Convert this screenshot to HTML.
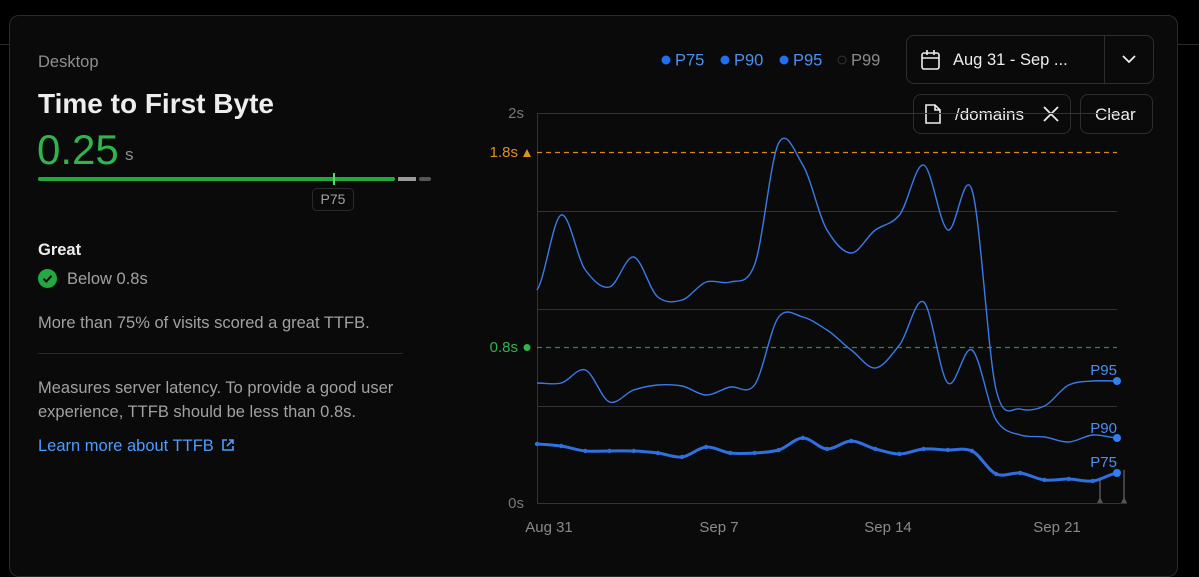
<!DOCTYPE html>
<html><head><meta charset="utf-8"><style>
html,body{margin:0;padding:0;background:#000;width:1199px;height:554px;overflow:hidden;font-family:"Liberation Sans",sans-serif;}
.card{position:absolute;left:9px;top:15px;width:1167px;height:560px;background:#0a0a0a;border:1px solid #2a2a2a;border-radius:10px;}
.t{position:absolute;white-space:nowrap;}
.btn{position:absolute;border:1px solid #2e2e2e;border-radius:8px;background:#0a0a0a;box-sizing:border-box;}
</style></head><body>
<div style="position:absolute;left:0;top:44px;width:9px;height:1px;background:#2a2a2a"></div>
<div style="position:absolute;left:1177px;top:44px;width:22px;height:1px;background:#2a2a2a"></div>
<div class="card"></div>
<div class="t" style="left:38px;top:53px;font-size:16.5px;color:#8f8f8f">Desktop</div>
<div class="t" style="left:38px;top:88px;font-size:28px;font-weight:bold;color:#ededed">Time to First Byte</div>
<div class="t" style="left:37px;top:126px;font-size:42px;color:#2fb44e">0.25</div>
<div class="t" style="left:125px;top:145px;font-size:17px;color:#8f8f8f">s</div>
<div style="position:absolute;left:38px;top:177px;width:357px;height:4px;border-radius:2px;background:#22a93f"></div>
<div style="position:absolute;left:398px;top:177px;width:18px;height:4px;background:#9a9a9a"></div>
<div style="position:absolute;left:419px;top:177px;width:12px;height:4px;border-radius:2px;background:#555"></div>
<div style="position:absolute;left:333px;top:173px;width:2px;height:12px;background:#4ce06a"></div>
<div style="position:absolute;left:312px;top:188px;width:42px;height:23px;border:1px solid #2a2a2a;border-radius:5px;box-sizing:border-box;color:#a1a1a1;font-size:14px;text-align:center;line-height:21px">P75</div>
<div class="t" style="left:38px;top:241px;font-size:16.5px;font-weight:bold;color:#ededed">Great</div>
<div style="position:absolute;left:38px;top:269px;width:19px;height:19px;border-radius:50%;background:#22a93f"></div>
<svg style="position:absolute;left:38px;top:269px" width="19" height="19"><path d="M5.5 9.8 L8.3 12.5 L13.5 6.8" stroke="#000" stroke-width="2" fill="none"/></svg>
<div class="t" style="left:67px;top:270px;font-size:16.5px;color:#a1a1a1">Below 0.8s</div>
<div class="t" style="left:38px;top:314px;font-size:16.5px;color:#a1a1a1">More than 75% of visits scored a great TTFB.</div>
<div style="position:absolute;left:38px;top:353px;width:365px;height:1px;background:#2a2a2a"></div>
<div class="t" style="left:38px;top:376px;font-size:16.5px;line-height:24px;color:#a1a1a1">Measures server latency. To provide a good user<br>experience, TTFB should be less than 0.8s.</div>
<div class="t" style="left:38px;top:437px;font-size:16.5px;color:#4d9cff">Learn more about TTFB</div>
<svg style="position:absolute;left:221px;top:438px" width="14" height="14"><path d="M6 2H2V12H12V8M8 2H12V6M12 2L6 8" stroke="#4d9cff" stroke-width="1.6" fill="none"/></svg>

<svg style="position:absolute;left:655px;top:50px" width="240" height="20">
<circle cx="11" cy="10" r="4.5" fill="#1f6fee"/><text x="20" y="15.5" font-size="16.5" fill="#4d8fef" font-family="Liberation Sans">P75</text>
<circle cx="70" cy="10" r="4.5" fill="#1f6fee"/><text x="79" y="15.5" font-size="16.5" fill="#4d8fef" font-family="Liberation Sans">P90</text>
<circle cx="129" cy="10" r="4.5" fill="#1f6fee"/><text x="138" y="15.5" font-size="16.5" fill="#4d8fef" font-family="Liberation Sans">P95</text>
<circle cx="187" cy="10" r="4" fill="none" stroke="#333"/><text x="196" y="15.5" font-size="16.5" fill="#8a8a8a" font-family="Liberation Sans">P99</text>
</svg>
<div class="btn" style="left:906px;top:35px;width:248px;height:49px"></div>
<div style="position:absolute;left:1104px;top:36px;width:1px;height:47px;background:#2e2e2e"></div>
<svg style="position:absolute;left:920px;top:49px" width="22" height="22"><rect x="2" y="4" width="17" height="16" rx="2" stroke="#ededed" stroke-width="1.6" fill="none"/><path d="M2 9H19M7 1V6M14 1V6" stroke="#ededed" stroke-width="1.6"/></svg>
<div class="t" style="left:953px;top:51px;font-size:16.5px;color:#ededed">Aug 31 - Sep ...</div>
<svg style="position:absolute;left:1120px;top:52px" width="18" height="14"><path d="M3 4L9 10L15 4" stroke="#ededed" stroke-width="1.8" fill="none"/></svg>
<div style="position:absolute;left:1070px;top:113px;width:10px;height:1px;background:#2e2e2e"></div>
<div class="btn" style="left:913px;top:94px;width:158px;height:40px"></div>
<svg style="position:absolute;left:924px;top:103px" width="18" height="22"><path d="M2 2H11L16 7V20H2Z M11 2V7H16" stroke="#ededed" stroke-width="1.6" fill="none"/></svg>
<div class="t" style="left:955px;top:105px;font-size:17px;color:#ededed">/domains</div>
<svg style="position:absolute;left:1042px;top:105px" width="18" height="18"><path d="M2 2L16 16M16 2L2 16" stroke="#ededed" stroke-width="1.8"/></svg>
<div class="btn" style="left:1080px;top:94px;width:73px;height:40px"></div>
<div class="t" style="left:1095px;top:105px;font-size:17px;color:#ededed">Clear</div>

<svg id="ch" style="position:absolute;left:0;top:0" width="1199" height="554" font-family="Liberation Sans">
<g stroke="#333" stroke-width="1">
<line x1="537" y1="113.5" x2="1117" y2="113.5"/><line x1="537" y1="211.5" x2="1117" y2="211.5"/>
<line x1="537" y1="309.5" x2="1117" y2="309.5"/><line x1="537" y1="406.5" x2="1117" y2="406.5"/>
<line x1="537" y1="503.5" x2="1127" y2="503.5"/><line x1="537.5" y1="113" x2="537.5" y2="504"/>
</g>
<line x1="537" y1="152.5" x2="1117" y2="152.5" stroke="#d68a1f" stroke-dasharray="5,4" stroke-width="1.2"/>
<line x1="537" y1="347.5" x2="1117" y2="347.5" stroke="#2f8a3f" stroke-dasharray="5,4" stroke-width="1.2"/>
<g font-size="15" text-anchor="end">
<text x="524" y="118" fill="#777">2s</text>
<text x="518" y="157" fill="#e0901f">1.8s</text><path d="M523 157L527 149L531 157Z" fill="#e0901f"/>
<text x="518" y="352" fill="#2fb44e">0.8s</text><circle cx="527" cy="347.5" r="3.5" fill="#2fb44e"/>
<text x="524" y="508" fill="#777">0s</text>
</g>
<g font-size="15" fill="#8a8a8a" text-anchor="middle">
<text x="549" y="532">Aug 31</text><text x="719" y="532">Sep 7</text><text x="888" y="532">Sep 14</text><text x="1057" y="532">Sep 21</text>
</g>
<g stroke="#555" stroke-width="1.5"><line x1="1100" y1="480" x2="1100" y2="503"/><line x1="1124" y1="470" x2="1124" y2="503"/></g>
<path d="M1097 503L1100 497L1103 503ZM1121 503L1124 497L1127 503Z" fill="#555"/>
<path id="p95" fill="none" stroke="#3a7ae8" stroke-width="1.4"/>
<path id="p90" fill="none" stroke="#3a7ae8" stroke-width="1.4"/>
<path id="p75" fill="none" stroke="#2f6fe0" stroke-width="3"/>
<g id="dots" fill="#2f6fe0"></g>
<circle cx="1117" cy="381" r="4" fill="#2f7ff0"/><circle cx="1117" cy="438" r="4" fill="#2f7ff0"/><circle cx="1117" cy="473" r="4" fill="#2f7ff0"/>
<g font-size="15" fill="#4d8fef" text-anchor="end"><text x="1117" y="375">P95</text><text x="1117" y="433">P90</text><text x="1117" y="467">P75</text></g>
</svg>
<script>
var xs=[];for(var i=0;i<25;i++)xs.push(537+i*580/24);
var p95=[290,215,270,287,257,297,300,282,282,265,143,165,230,253,230,215,165,230,190,390,409,406,385,381,381];
var p90=[383,383,370,402,390,385,386,395,387,385,317,317,330,350,368,345,302,383,350,420,435,437,442,435,438];
var p75=[444,446,451,451,451,453,457,447,453,453,450,438,449,441,449,454,449,450,451,474,473,480,479,481,473];
function path(ys){var d="M"+xs[0]+" "+ys[0];for(var i=0;i<ys.length-1;i++){var y0=ys[Math.max(i-1,0)],y3=ys[Math.min(i+2,ys.length-1)];var dx=xs[1]-xs[0];var c1x=xs[i]+dx/3,c1y=ys[i]+(ys[i+1]-y0)/6*0.9,c2x=xs[i+1]-dx/3,c2y=ys[i+1]-(y3-ys[i])/6*0.9;d+=" C"+c1x+" "+c1y+" "+c2x+" "+c2y+" "+xs[i+1]+" "+ys[i+1];}return d;}
document.getElementById('p95').setAttribute('d',path(p95));
document.getElementById('p90').setAttribute('d',path(p90));
document.getElementById('p75').setAttribute('d',path(p75));
var g=document.getElementById('dots'),s='';for(var i=0;i<24;i++)s+='<circle cx="'+xs[i]+'" cy="'+p75[i]+'" r="2.2"/>';g.innerHTML=s;
</script>
</body></html>
